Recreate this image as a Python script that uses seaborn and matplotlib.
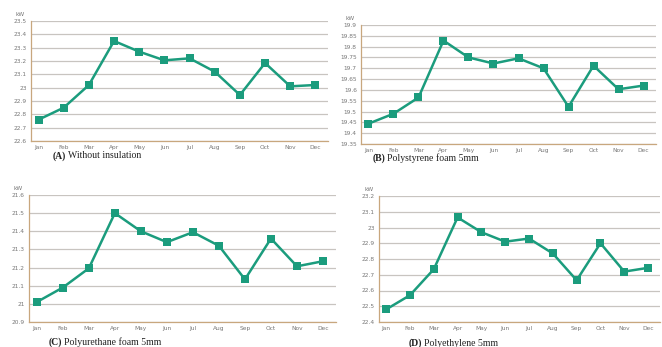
import numpy as np
import pandas as pd
import matplotlib.pyplot as plt
import seaborn as sns

# data (kW per month)
months = ["Jan", "Feb", "Mar", "Apr", "May", "Jun", "Jul", "Aug", "Sep", "Oct", "Nov", "Dec"]
no_insulation = [22.76, 22.85, 23.02, 23.35, 23.27, 23.205, 23.22, 23.12, 22.945, 23.185, 23.01, 23.02]
polystyrene = [19.444, 19.49, 19.565, 19.828, 19.75, 19.722, 19.746, 19.70, 19.522, 19.712, 19.603, 19.62]
polyurethane = [21.01, 21.09, 21.196, 21.50, 21.40, 21.34, 21.395, 21.32, 21.135, 21.36, 21.207, 21.235]
polyethylene = [22.48, 22.57, 22.735, 23.064, 22.97, 22.91, 22.93, 22.835, 22.665, 22.90, 22.72, 22.744]

panel_tags = ["(A)", "(B)", "(C)", "(D)"]
captions = ["Without insulation", "Polystyrene foam 5mm",
            "Polyurethane foam 5mm", "Polyethylene 5mm"]
ylims = [(22.6, 23.5, 0.1), (19.35, 19.9, 0.05), (20.9, 21.6, 0.1), (22.4, 23.2, 0.1)]

sns.set_theme(style="white")
plt.rcParams['font.family'] = ['DejaVu Sans']

W, H = 662, 347
fig = plt.figure(figsize=(W / 100, H / 100), dpi=100)
renderer = fig.canvas.get_renderer()

# axes boxes in pixels: left, top, right, bottom
boxes = [(31, 21, 328, 141), (361, 25, 656, 144), (29, 195, 336, 322), (379, 196, 660, 322)]
cap_pos = [(53, 156), (373, 158), (49, 342), (409, 343)]

line_col = "#1b9c7d"
spine_col = "#c8a77e"

series = [no_insulation, polystyrene, polyurethane, polyethylene]
for i, vals in enumerate(series):
    l, t, r, b = boxes[i]
    ax = fig.add_axes([l / W, 1 - b / H, (r - l) / W, (b - t) / H])
    df = pd.DataFrame({"x": np.arange(len(months)), "kW": vals})
    sns.lineplot(data=df, x="x", y="kW", ax=ax, color=line_col, lw=1.8,
                 marker="s", markersize=6, markeredgewidth=0, zorder=3)
    lo, hi, step = ylims[i]
    ticks = np.round(np.arange(lo, hi + step / 2, step), 2)
    ax.set_ylim(lo, hi)
    ax.set_yticks(ticks)
    ax.set_yticklabels([f"{v:g}" for v in ticks], fontsize=4.2, color="#777777")
    ax.set_xlim(-0.3, 11.5)
    ax.set_xticks(np.arange(12))
    ax.set_xticklabels(months, fontsize=4.2, color="#777777")
    ax.set_xticks(np.arange(12) + 0.5, minor=True)
    ax.tick_params(axis="x", which="major", length=0, pad=3)
    ax.tick_params(axis="x", which="minor", length=2, color=spine_col, width=0.8)
    ax.tick_params(axis="y", length=2, color=spine_col, width=0.8, pad=1)
    ax.yaxis.grid(True, color="#c8c4c0", lw=0.9)
    ax.set_axisbelow(True)
    ax.set_xlabel("")
    ax.set_ylabel("")
    for s in ["top", "right"]:
        ax.spines[s].set_visible(False)
    for s in ["left", "bottom"]:
        ax.spines[s].set_color(spine_col)
        ax.spines[s].set_linewidth(0.9)
    ax.text(-0.02, 1.03, "kW", transform=ax.transAxes, fontsize=4.2,
            color="#777777", ha="right", va="bottom")
    # caption: bold tag then plain text
    cx, cy = cap_pos[i]
    tag = fig.text(cx / W, 1 - cy / H, panel_tags[i], fontsize=7, family="Liberation Serif",
                   weight="bold", color="#222222", va="center", ha="left")
    tw = tag.get_window_extent(renderer).width
    fig.text((cx + tw + 1.5) / W, 1 - cy / H, captions[i], fontsize=7,
             family="Liberation Serif", color="#222222", va="center", ha="left")

fig.savefig("out.png", dpi=100, facecolor="white")
